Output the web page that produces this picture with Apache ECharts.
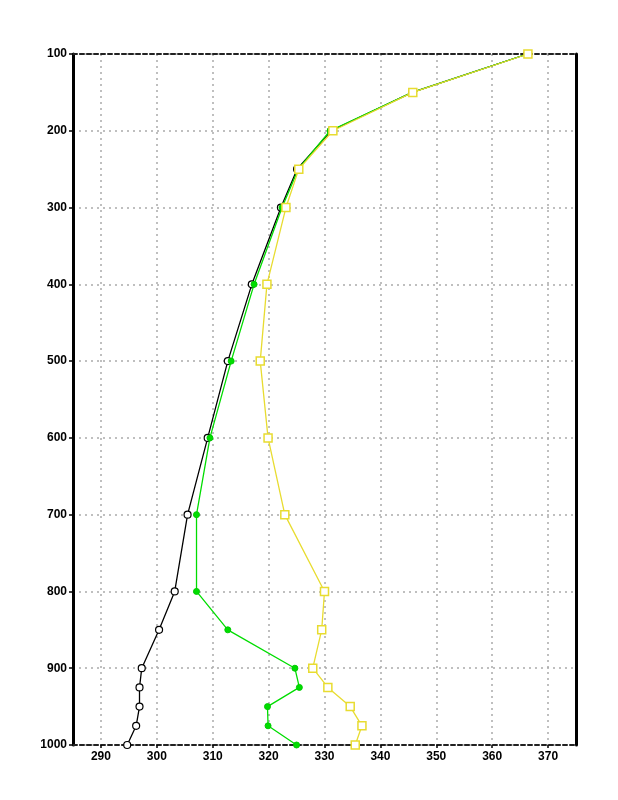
<!DOCTYPE html>
<html><head><meta charset="utf-8">
<script src="https://cdn.jsdelivr.net/npm/echarts@6/dist/echarts.min.js"></script>
<style>html,body{margin:0;padding:0;background:#fff}#c{width:618px;height:800px}</style>
</head><body><div id="c"></div>
<script>
const pressure = [100,150,200,250,300,400,500,600,700,800,850,900,925,950,975,1000];
const theta    = [366.3,345.7,331.2,325.1,322.2,317.0,312.7,309.1,305.5,303.2,300.4,297.3,296.9,296.9,296.3,294.7];
const thetaE   = [366.3,345.7,331.0,325.3,322.4,317.4,313.3,309.5,307.1,307.1,312.7,324.7,325.5,319.8,319.9,325.0];
const thetaES  = [366.4,345.8,331.5,325.4,323.1,319.7,318.5,319.9,322.9,330.0,329.5,327.9,330.6,334.6,336.7,335.5];
const xTicks = [290,300,310,320,330,340,350,360,370];

const pair = arr => arr.map((v,i)=>[v, pressure[i]]);
const font = {fontFamily:'Liberation Sans', fontWeight:'bold', fontSize:12, color:'#000'};
const chart = echarts.init(document.getElementById('c'), null, {renderer:'canvas'});
chart.setOption({
  animation:false,
  backgroundColor:'#fff',
  grid:{left:73, right:42, top:54, bottom:55, containLabel:false},
  xAxis:[{
    type:'value', min:285, max:375, interval:5, position:'bottom',
    axisLine:{show:true, onZero:false, lineStyle:{color:'#222', width:2, type:[4,3]}},
    axisTick:{show:true, length:3, customValues:xTicks, lineStyle:{color:'#000', width:1.5}},
    axisLabel:{...font, margin:6, customValues:xTicks, formatter: v => String(v)},
    splitLine:{show:true, lineStyle:{color:'#aaa', width:1.5, type:[2,4]}}
  },{
    type:'value', min:285, max:375, position:'top',
    axisLine:{show:true, onZero:false, lineStyle:{color:'#222', width:2, type:[4,3]}},
    axisTick:{show:false}, axisLabel:{show:false}, splitLine:{show:false}
  }],
  yAxis:[{
    type:'value', inverse:true, min:100, max:1000, interval:100, position:'left',
    axisLine:{show:true, onZero:false, lineStyle:{color:'#000', width:3}},
    axisTick:{show:true, length:4, lineStyle:{color:'#000', width:1.5}},
    axisLabel:{...font, margin:6, formatter: v => String(v)},
    splitLine:{show:true, lineStyle:{color:'#aaa', width:1.5, type:[2,4]}}
  },{
    type:'value', inverse:true, min:100, max:1000, interval:100, position:'right',
    axisLine:{show:true, onZero:false, lineStyle:{color:'#000', width:3}},
    axisTick:{show:false}, axisLabel:{show:false}, splitLine:{show:false}
  }],
  series:[
    {name:'theta', type:'line', data:pair(theta), symbol:'circle', symbolSize:7,
     lineStyle:{color:'#000', width:1.3}, itemStyle:{color:'#fff', borderColor:'#000', borderWidth:1.2}, z:3},
    {name:'thetaE', type:'line', data:pair(thetaE), symbol:'circle', symbolSize:6,
     lineStyle:{color:'#00dd00', width:1.3}, itemStyle:{color:'#00dd00', borderColor:'#00cc00', borderWidth:1}, z:4},
    {name:'thetaES', type:'line', data:pair(thetaES), symbol:'rect', symbolSize:8,
     lineStyle:{color:'#e8dc30', width:1.3}, itemStyle:{color:'#fff', borderColor:'#e8dc30', borderWidth:1.5}, z:5}
  ]
});
</script></body></html>
